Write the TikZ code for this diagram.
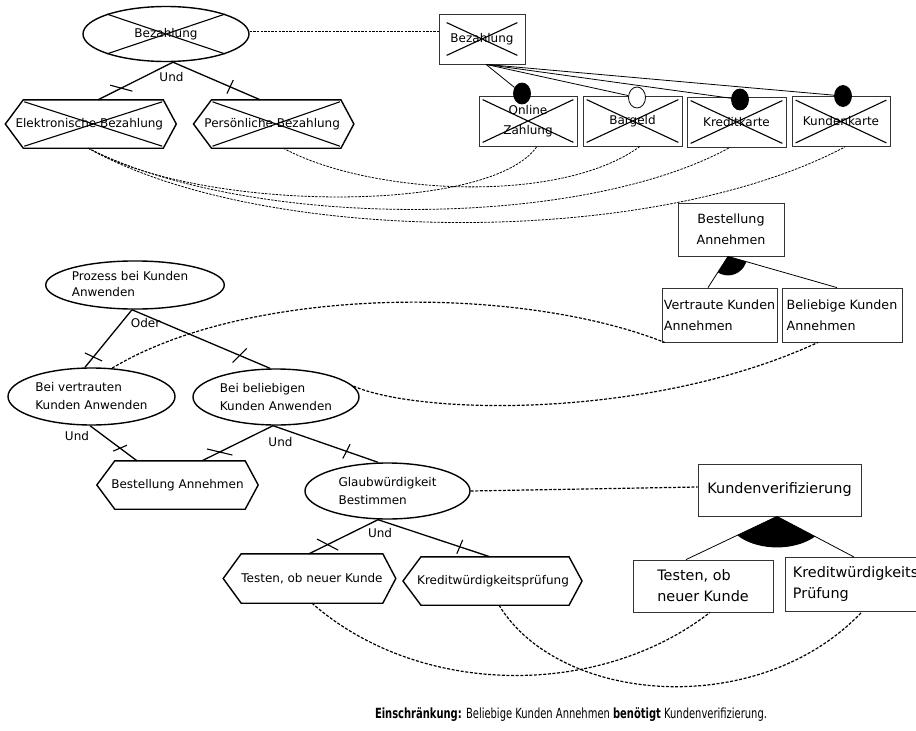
\documentclass[tikz,border=0pt]{standalone}
\usepackage{fontspec}
\setmainfont{DejaVu Sans}
\usetikzlibrary{calc,shapes.geometric}

\tikzset{
  base/.style={font=\fontsize{12}{18}\selectfont, inner sep=0pt},
  oval/.style={base, ellipse, draw, line width=1.4pt, align=left},
  hexa/.style={base, rectangle, minimum height=48pt},
  box/.style={base, rectangle, draw=black!80, line width=0.8pt},
  midfont/.style={font=\fontsize{12.7}{21}\selectfont},
  bigfont/.style={font=\fontsize{14.4}{21}\selectfont},
  tree/.style={line width=1.3pt},
  slim/.style={line width=0.8pt},
  link/.style={line width=1.2pt, dash pattern=on 3pt off 1.6pt},
  finelink/.style={line width=0.8pt, dash pattern=on 2.4pt off 1.2pt},
  tickmk/.style={draw, line width=1.1pt, inner sep=0pt, minimum height=0pt, minimum width=#1},
  dot/.style={draw, ellipse, line width=0.8pt, inner sep=0pt, minimum width=17pt, minimum height=21pt},
  lbl/.style={base},
}

% hexagon outline around a rectangular node (left tip 18pt, right tip 13pt)
\newcommand\hexline[1]{%
  \draw[line width=1.4pt] (#1.north west) -- (#1.north east) -- ([xshift=13pt]#1.east)
    -- (#1.south east) -- (#1.south west) -- ([xshift=-18pt]#1.west) -- cycle;}
% diagonal cross over a rectangular node, inset by #2 (x) and #3 (y)
\newcommand\strikebox[3]{%
  \draw[line width=1.1pt] ([shift={(#2pt,-#3pt)}]#1.north west) -- ([shift={(-#2pt,#3pt)}]#1.south east)
    ([shift={(#2pt,#3pt)}]#1.south west) -- ([shift={(-#2pt,-#3pt)}]#1.north east);}

\begin{document}
\begin{tikzpicture}[x=1pt,y=-1pt]
\useasboundingbox (0,0) rectangle (916,731);
\clip (0,0) rectangle (916,731);
\fill[white] (0,0) rectangle (916,731);

% ---------- payment feature tree ----------
\node[oval, minimum width=166pt, minimum height=55pt] (ellBez) at (166,34) {Bezahlung};
\draw[line width=1.1pt] (ellBez.north west) -- (ellBez.south east)
  (ellBez.south west) -- (ellBez.north east);

\node[hexa, minimum width=130pt] (hexE) at (93.3,124) {\kern-8pt Elektronische Bezahlung};
\node[hexa, minimum width=129pt] (hexP) at (276.2,124) {\kern-8pt Persönliche Bezahlung};
\hexline{hexE} \hexline{hexP}
\strikebox{hexE}{1}{2} \strikebox{hexP}{1}{2}

\node[lbl] (undA) at (171.5,77) {Und};
\draw[tree] ([xshift=7pt]ellBez.south) -- node[tickmk=23pt, pos=0.69, rotate=-15]{} ([xshift=4.7pt]hexE.north);
\draw[tree] ([xshift=7pt]ellBez.south) -- node[tickmk=15pt, pos=0.655, rotate=65]{} ([xshift=-16pt]hexP.north);

% ---------- payment class boxes ----------
\node[box, minimum width=86pt, minimum height=50pt] (bzBox) at (482,39) {Bezahlung};
\strikebox{bzBox}{8}{9}
\node[box, minimum width=98pt, minimum height=50pt, align=center, font=\fontsize{12}{20}\selectfont] (onl) at (528,121) {Online\\Zahlung};
\node[box, minimum width=99pt, minimum height=50pt] (bar) at (632.5,121) {\raisebox{1pt}{Bargeld}};
\node[box, minimum width=99pt, minimum height=50pt] (kre) at (736.5,122) {Kreditkarte};
\node[box, minimum width=98pt, minimum height=50pt] (kun) at (841,121.5) {Kundenkarte};
\foreach \b in {onl,bar,kre,kun} {\strikebox{\b}{4}{4}}

\draw[finelink] ([yshift=3pt]ellBez.east) -- ([yshift=8pt]bzBox.west);

\node[dot, fill=black] (c1) at (522,93.5) {};
\node[dot, fill=white] (c2) at (637,97.5) {};
\node[dot, fill=black] (c3) at (740,99.5) {};
\node[dot, fill=black] (c4) at (843,96) {};
\foreach \c in {c1,c2,c3,c4} {\draw[slim] ([xshift=4pt]bzBox.south) -- (\c);}

% trace links between the payment tree and the classes
\draw[finelink] ([xshift=-5pt]hexE.south) .. controls (200,212) and (490,215) .. ([xshift=9pt]onl.south);
\draw[finelink] ([xshift=-5pt]hexE.south) .. controls (250,230) and (580,230) .. ([xshift=-6.5pt]kre.south);
\draw[finelink] ([xshift=-5pt]hexE.south) .. controls (260,245) and (650,250) .. ([xshift=4pt]kun.south);
\draw[finelink] ([xshift=7pt]hexP.south) .. controls (370,195) and (560,205) .. ([xshift=7.5pt]bar.south);

% ---------- customer process tree ----------
\node[oval, minimum width=166pt, minimum height=44pt] (elPro) at (135,285)
  {\raisebox{7pt}{\begin{tabular}{@{}l@{}}Prozess bei Kunden\\[-2pt]Anwenden\end{tabular}}\kern10pt};
\node[oval, minimum width=167pt, minimum height=57pt] (elVer) at (91.5,396.5) {Bei vertrauten\\Kunden Anwenden};
\node[oval, minimum width=166pt, minimum height=56pt] (elBel) at (276,397) {Bei beliebigen\\Kunden Anwenden};
\node[hexa, minimum width=130pt] (hexBA) at (180,485) {\kern-5pt Bestellung Annehmen};
\node[oval, minimum width=165pt, minimum height=56pt] (elGla) at (387.5,491) {Glaubwürdigkeit\\Bestimmen};
\node[hexa, minimum width=134pt, minimum height=49pt] (hexT) at (312,578.5) {\raisebox{2pt}{Testen, ob neuer Kunde}};
\node[hexa, minimum width=130pt] (hexK) at (495,581) {\kern-4pt Kreditwürdigkeitsprüfung};
\hexline{hexBA} \hexline{hexT} \hexline{hexK}

\node[lbl] (oderA) at (145.5,323) {Oder};
\node[lbl] (undB) at (77,436) {Und};
\node[lbl] (undC) at (280.5,442) {Und};
\node[lbl] (undD) at (380,533) {Und};

\draw[tree] ([xshift=-3pt]elPro.south) -- node[tickmk=19pt, pos=0.82, rotate=-25]{} ([xshift=-6.5pt]elVer.north);
\draw[tree] ([xshift=-3pt]elPro.south) -- node[tickmk=20pt, pos=0.78, rotate=45]{} ([xshift=-6pt]elBel.north);
\draw[tree] ([xshift=-1.5pt]elVer.south) -- node[tickmk=15pt, pos=0.64, rotate=23]{} ([xshift=-43pt]hexBA.north);
\draw[tree] ([xshift=-3pt]elBel.south) -- node[tickmk=26pt, pos=0.75, rotate=-13.5]{} ([xshift=22pt]hexBA.north);
\draw[tree] ([xshift=-3pt]elBel.south) -- node[tickmk=16pt, pos=0.7, rotate=63]{} ([xshift=-9.5pt]elGla.north);
\draw[tree] ([xshift=-9.5pt]elGla.south) -- node[tickmk=24pt, pos=0.73, rotate=-27.6]{} ([xshift=-3pt]hexT.north);
\draw[tree] ([xshift=-9.5pt]elGla.south) -- node[tickmk=15pt, pos=0.73, rotate=67]{} ([xshift=-5pt]hexK.north);

% ---------- order acceptance classes ----------
\node[box, midfont, minimum width=106pt, minimum height=53pt, align=center] (bestBox) at (731,229.5) {Bestellung\\Annehmen};
\node[box, midfont, minimum width=115pt, minimum height=54pt, align=left] (vkBox) at (719.5,315) {Vertraute Kunden\\Annehmen};
\node[box, midfont, minimum width=120pt, minimum height=54pt, align=left] (bkBox) at (842,315) {Beliebige Kunden\\Annehmen};

\coordinate (apA) at ([xshift=-3pt]bestBox.south);
\coordinate (tvA) at ([xshift=-11.5pt]vkBox.north);
\coordinate (tbA) at ([xshift=-5pt]bkBox.north);
\begin{scope}
  \clip (apA) -- (tvA) -- (tbA) -- cycle;
  \fill (apA) circle[radius=19pt];
\end{scope}
\draw[slim] (apA) -- (tvA) (apA) -- (tbA);

% ---------- verification classes ----------
\node[box, bigfont, minimum width=163pt, minimum height=52pt] (kvBox) at (779.5,490) {Kundenverifizierung};
\node[box, bigfont, minimum width=140pt, minimum height=52pt, align=left] (tBox) at (703,586) {Testen, ob\\neuer Kunde};
\node[box, bigfont, anchor=north west, minimum width=200pt, minimum height=54pt, text width=185pt, align=left] (kBox) at (785,557) {Kreditwürdigkeits\\Prüfung};

\coordinate (apB) at ([xshift=-2.5pt]kvBox.south);
\coordinate (ttB) at ([xshift=-17pt]tBox.north);
\coordinate (tkB) at ([xshift=69pt]kBox.north west);
\begin{scope}
  \clip (apB) -- (ttB) -- (tkB) -- cycle;
  \fill (apB) ellipse[x radius=50pt, y radius=31pt];
\end{scope}
\draw[slim] (apB) -- (ttB) (apB) -- (tkB);

% ---------- trace links, process tree to classes ----------
\draw[link] (elVer.54) .. controls (250,285) and (520,285) .. ([xshift=3pt]vkBox.south west);
\draw[link] (elBel.8) .. controls (420,415) and (650,420) .. ([xshift=-24pt]bkBox.south);
\draw[link] (elGla.east) -- ([yshift=3pt]kvBox.west);
\draw[link] (hexT.south) .. controls (420,698) and (600,698) .. ([xshift=7pt]tBox.south);
\draw[link] ([xshift=4pt]hexK.south) .. controls (560,705) and (760,720) .. ([xshift=77pt]kBox.south west);

% ---------- constraint ----------
\node[base] (note) at (571,715) {\resizebox{392pt}{\height}{\fontsize{14}{16}\selectfont
  \textbf{Einschränkung:} Beliebige Kunden Annehmen \textbf{benötigt} Kundenverifizierung.}};
\end{tikzpicture}
\end{document}
